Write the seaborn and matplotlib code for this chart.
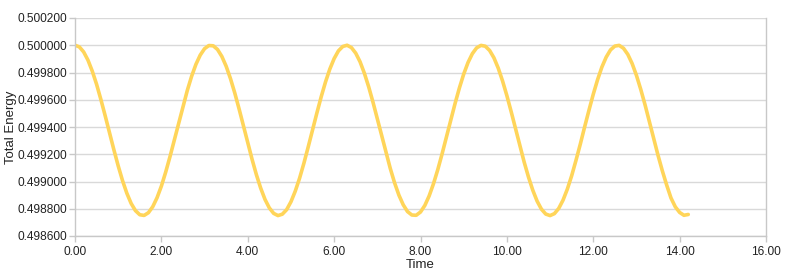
import matplotlib
matplotlib.use("Agg")
import matplotlib.pyplot as plt
import seaborn as sns
import pandas as pd

time = [round(i * 0.1, 1) for i in range(143)]  # 0.0 ... 14.2 sample times
energy = [
    0.500000, 0.499988, 0.499951, 0.499891, 0.499810, 0.499713, 0.499601, 0.499481,
    0.499357, 0.499233, 0.499115, 0.499007, 0.498914, 0.498839, 0.498786, 0.498756,
    0.498751, 0.498771, 0.498815, 0.498881, 0.498966, 0.499069, 0.499183, 0.499305,
    0.499430, 0.499552, 0.499668, 0.499772, 0.499860, 0.499928, 0.499975, 0.499998,
    0.499996, 0.499969, 0.499918, 0.499846, 0.499755, 0.499649, 0.499532, 0.499409,
    0.499284, 0.499163, 0.499050, 0.498951, 0.498868, 0.498806, 0.498766, 0.498750,
    0.498760, 0.498793, 0.498851, 0.498929, 0.499024, 0.499134, 0.499254, 0.499378,
    0.499502, 0.499621, 0.499730, 0.499825, 0.499902, 0.499959, 0.499991, 0.500000,
    0.499983, 0.499942, 0.499879, 0.499795, 0.499695, 0.499582, 0.499460, 0.499336,
    0.499213, 0.499096, 0.498990, 0.498900, 0.498829, 0.498779, 0.498754, 0.498752,
    0.498776, 0.498824, 0.498894, 0.498983, 0.499087, 0.499203, 0.499326, 0.499451,
    0.499572, 0.499686, 0.499788, 0.499873, 0.499938, 0.499981, 0.499999, 0.499993,
    0.499962, 0.499908, 0.499832, 0.499738, 0.499630, 0.499512, 0.499388, 0.499263,
    0.499143, 0.499033, 0.498936, 0.498856, 0.498797, 0.498761, 0.498750, 0.498764,
    0.498802, 0.498863, 0.498944, 0.499042, 0.499155, 0.499274, 0.499400, 0.499522,
    0.499640, 0.499747, 0.499840, 0.499913, 0.499966, 0.499994, 0.499999, 0.499978,
    0.499933, 0.499866, 0.499779, 0.499676, 0.499562, 0.499439, 0.499314, 0.499192,
    0.499078, 0.498974, 0.498879, 0.498814, 0.498773, 0.498752, 0.498758,
]

x_ticks = [0, 2, 4, 6, 8, 10, 12, 14, 16]
y_ticks = [0.4986, 0.4988, 0.4990, 0.4992, 0.4994, 0.4996, 0.4998, 0.5000, 0.5002]

sns.set_theme(style="white")
plt.rcParams['font.family'] = ['Liberation Sans', 'DejaVu Sans']

df = pd.DataFrame({"Time": time, "Total Energy": energy})

fig = plt.figure(figsize=(8, 2.76), dpi=100)
ax = fig.add_axes([75/800, 1 - 236/276, (766 - 75)/800, (236 - 18)/276])

sns.lineplot(data=df, x="Time", y="Total Energy", ax=ax, color="#FFD55A",
             linewidth=2.6, solid_capstyle="round", solid_joinstyle="round")

ax.set_xlim(0, 16)
ax.set_ylim(0.4986, 0.5002)
ax.set_xticks(x_ticks)
ax.set_xticklabels([f"{v:.2f}" for v in x_ticks])
ax.set_yticks(y_ticks)
ax.set_yticklabels([f"{v:.6f}" for v in y_ticks])

ax.yaxis.grid(True, color="#D9D9D9", linewidth=1)
ax.xaxis.grid(False)
ax.set_axisbelow(True)

ax.spines["top"].set_visible(False)
for s in ["left", "bottom", "right"]:
    ax.spines[s].set_color("#C8C8C8")
    ax.spines[s].set_linewidth(1)

ax.tick_params(axis="both", which="both", length=4, width=1, color="#C8C8C8",
               labelsize=8.6, labelcolor="#222222", pad=2)
ax.tick_params(axis="x", bottom=True, pad=3)
ax.tick_params(axis="y", left=True)

ax.set_xlabel("Time", fontsize=9.5, color="#222222")
ax.xaxis.set_label_coords((420 - 75) / 691, -(265 - 236) / 218)
ax.xaxis.label.set_verticalalignment("center")
ax.set_ylabel("Total Energy", fontsize=9.5, color="#222222")
ax.yaxis.set_label_coords(-(75 - 11) / 691, 0.5)
ax.yaxis.label.set_verticalalignment("center")

fig.savefig("out.png", dpi=100)
